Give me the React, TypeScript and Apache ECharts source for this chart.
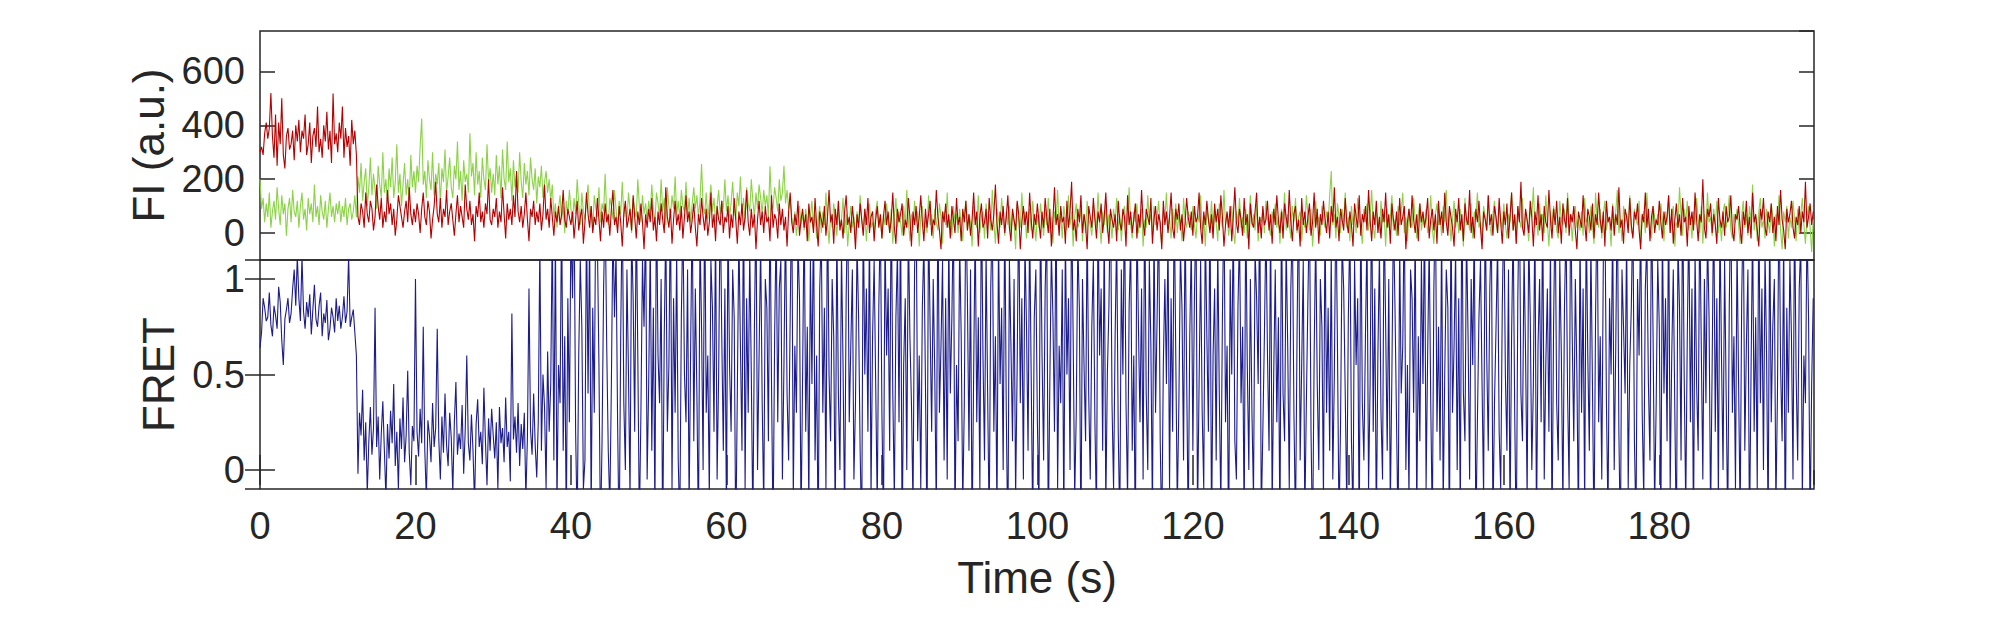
import React, { useEffect, useRef } from "react";
import * as echarts from "echarts";

// Each inner array holds one 10-second window, sampled every 0.2 s.
const WINDOW_S = 10;
const DT = 0.2;
const X_MAX = 199.9;
const X_TICK_STEP = 20;

// Acceptor (red) intensity, a.u.
const acceptorByWindow: number[][] = [
  [300, 320, 290, 370, 410, 350, 390, 520, 360, 280, 440, 250, 410, 330, 500, 290, 240, 360, 390, 310, 330, 380, 270, 400, 340, 420, 300, 380, 350, 440, 290, 330, 410, 260, 360, 390, 320, 470, 300, 350, 280, 400, 340, 450, 310, 380, 260, 518, 330, 370],
  [300, 410, 350, 470, 280, 390, 320, 360, 250, 420, 330, 380, 290, 60, 30, 110, 80, 20, 150, 70, 40, 120, 90, 10, 60, 180, 100, 50, 130, 20, 80, 40, 160, 70, 110, 30, 90, -10, 50, 140, 100, 60, 20, 80, 120, 40, 170, 70, 30, 90],
  [40, 110, 70, 0, 90, 150, 60, 30, 120, 80, -20, 50, 100, 190, 70, 40, 130, 20, 90, 60, 160, 30, 80, 110, 50, -10, 70, 140, 40, 100, 60, 20, 180, 90, 50, 120, 30, 70, -30, 100, 60, 150, 40, 80, 20, 110, 70, 200, 50, 30],
  [90, 60, 130, 20, 80, 40, 170, 70, -20, 110, 50, 90, 30, 140, 60, 230, 80, 40, 100, 20, 70, 150, 50, -30, 90, 60, 120, 30, 80, 40, 110, 10, 70, 180, 50, 90, 20, 130, 60, -10, 80, 40, 100, 30, 70, 160, 50, 20, 90, 60],
  [30, 80, -20, 50, 120, 10, 60, 90, -40, 40, 150, 70, 20, 100, 0, 60, 30, 130, 50, -30, 80, 20, 110, 40, 70, -10, 90, 160, 30, 60, 0, 100, 40, -50, 70, 120, 20, 50, 90, 10, 140, 60, -20, 80, 30, 110, 40, -60, 70, 20],
  [90, 40, 130, 10, 60, -30, 80, 30, 110, 50, 0, 170, 60, 20, 90, -40, 50, 120, 30, 70, 10, 100, -20, 60, 140, 40, 80, 0, 50, 110, 20, -50, 70, 30, 130, 60, 10, 90, -10, 40, 150, 20, 70, -30, 100, 50, 30, 120, 0, 60],
  [40, 100, -20, 70, 20, 130, 50, -40, 80, 30, 110, 10, 60, 160, 40, -10, 90, 20, 70, -60, 50, 120, 30, 80, 0, 100, 40, 60, -30, 140, 20, 70, 50, -20, 110, 30, 90, 10, 60, -50, 80, 150, 40, 0, 70, 30, 120, -10, 50, 90],
  [20, 70, -30, 110, 40, 60, 0, 130, 30, -50, 80, 50, 20, 100, -10, 60, 160, 40, 70, -40, 90, 30, 120, 10, 50, -20, 80, 140, 30, 60, 0, 100, 40, -60, 70, 20, 110, 50, -10, 90, 30, 130, 0, 60, 80, -30, 50, 100, 20, 70],
  [-20, 60, 120, 30, 80, 0, 50, 150, 20, -40, 90, 40, 70, 110, -10, 50, 20, 130, 60, -50, 80, 30, 100, 0, 60, 140, 40, -30, 90, 20, 70, 120, -10, 50, 30, 160, 60, 10, -60, 80, 40, 110, 20, 70, -20, 100, 50, 0, 130, 30],
  [60, -30, 90, 40, 120, 10, 70, -10, 50, 150, 30, 80, -50, 60, 110, 20, 40, 90, -20, 130, 50, 10, 70, 180, 40, -40, 80, 30, 100, 0, 60, 140, 20, -30, 90, 50, 10, 120, 70, -60, 40, 100, 30, 80, 0, 150, 50, -20, 70, 30],
  [110, 40, -20, 80, 20, 130, 60, 0, 90, -50, 50, 170, 30, 70, -10, 100, 40, 60, -40, 120, 20, 80, 190, 10, 50, -30, 90, 40, 140, 0, 70, 30, -60, 100, 60, 20, 130, 50, -20, 80, 40, 110, 0, 60, 150, 30, -40, 90, 50, 20],
  [70, -30, 120, 40, 10, 90, 60, -50, 140, 30, 80, 0, 50, 110, -20, 70, 20, 160, 40, -10, 90, 60, 30, 130, -40, 50, 100, 10, 70, 40, -60, 120, 30, 80, 0, 60, 150, 20, -20, 90, 50, 110, 10, 70, -30, 40, 130, 60, 20, 80],
  [-10, 100, 40, 60, 150, 20, -40, 80, 30, 120, 50, 0, 70, -20, 110, 40, 90, 10, 140, 60, -50, 30, 80, 20, 100, -30, 60, 170, 40, 0, 90, 50, -10, 130, 30, 70, -60, 110, 40, 20, 80, 150, 0, 60, -20, 100, 30, 50, 120, 10],
  [70, -40, 90, 30, 140, 50, 0, 80, -20, 110, 60, 20, 160, 40, -30, 70, 100, 10, 50, -50, 130, 30, 80, 0, 60, 110, -10, 40, 150, 20, 90, -40, 70, 30, 120, 50, 0, 80, -20, 100, 40, 170, 20, 60, -30, 90, 50, 10, 130, 40],
  [0, 80, 30, -50, 110, 60, 20, 140, -10, 70, 40, 100, 10, 160, 50, -30, 80, 30, 120, 0, 60, -20, 90, 40, 150, 20, 70, -40, 110, 50, 10, 80, -10, 130, 30, 60, 100, -60, 40, 90, 20, 140, 50, 0, 70, -30, 110, 40, 80, 20],
  [60, 130, -20, 50, 90, 10, 70, -40, 120, 30, 80, 0, 150, 40, -10, 100, 60, 20, -50, 90, 40, 130, 10, 70, -30, 110, 50, 30, 160, 0, 60, -20, 90, 40, 120, 20, -60, 80, 50, 10, 140, 30, 70, -10, 100, 60, 0, 130, 40, -40],
  [80, 30, 110, -20, 60, 150, 10, 70, -40, 100, 40, 190, 20, -10, 90, 50, 0, 120, 60, -50, 80, 30, 140, 10, 70, -30, 100, 40, 20, 160, 50, -20, 90, 30, 120, 0, 60, -40, 110, 50, 20, 130, -10, 70, 40, 100, 10, -60, 80, 50],
  [20, 140, 40, -30, 90, 60, 10, 110, -20, 70, 30, 150, 50, 0, 80, -50, 120, 40, 60, 10, 100, -10, 70, 30, 170, 20, 50, -40, 90, 60, 0, 130, 30, -20, 80, 50, 110, 10, -60, 70, 40, 150, 20, 90, -30, 60, 100, 0, 50, 30],
  [120, 40, -20, 80, 30, 60, 140, 0, 90, -40, 50, 110, 20, 70, -10, 130, 40, 60, -50, 100, 30, 80, 10, 150, 50, -30, 70, 40, 200, 20, -20, 90, 60, 110, 0, 70, 30, -40, 130, 50, 20, 80, -10, 100, 40, 60, 140, 10, -30, 70],
  [50, 100, 20, -40, 80, 30, 120, 0, 60, -20, 150, 40, 70, 10, -50, 90, 50, 130, 20, -10, 80, 40, 110, 0, 60, -30, 100, 30, 160, 50, 10, -60, 90, 40, 70, 120, 20, -20, 60, 30, 100, 0, 80, 40, 190, 20, 60, 110, 30, 80],
];

// Donor (green) intensity, a.u.
const donorByWindow: number[][] = [
  [200, 90, 130, 40, 110, 60, 150, 20, 80, 120, 50, 170, 90, 30, 140, 70, 110, -10, 90, 130, 40, 160, 80, 60, 120, 20, 100, 150, 50, 90, 10, 130, 70, 110, 40, 180, 60, 100, 30, 140, 80, 50, 120, 20, 90, 150, 60, 100, 40, 110],
  [70, 120, 40, 100, 60, 130, 30, 90, 110, 50, 80, 140, 60, 210, 150, 260, 120, 190, 240, 100, 170, 280, 140, 220, 160, 90, 250, 180, 130, 300, 150, 200, 110, 240, 170, 280, 130, 190, 330, 150, 220, 100, 180, 260, 140, 200, 120, 290, 170, 230],
  [150, 250, 190, 320, 425, 180, 230, 130, 270, 200, 160, 300, 140, 220, 180, 260, 110, 240, 190, 310, 150, 210, 280, 170, 130, 250, 200, 340, 160, 230, 120, 270, 190, 220, 150, 370, 210, 260, 140, 300, 180, 230, 130, 280, 200, 160, 330, 190, 240, 150],
  [220, 140, 290, 180, 250, 130, 310, 200, 160, 340, 190, 240, 120, 270, 170, 220, 150, 300, 190, 130, 260, 180, 230, 140, 280, 200, 160, 240, 110, 210, 170, 250, 130, 190, 230, 150, 200, 120, 180, 60, 110, 20, 90, 140, 50, 100, 0, 120, 70, 160],
  [90, 40, 130, 70, 200, 110, 30, 150, 80, 50, 120, 180, 60, 100, 10, 140, 90, 60, 170, 40, 110, 80, 220, 70, 30, 130, 100, 50, 160, 90, 20, 120, 70, 190, 60, 110, 40, 150, 90, 0, 130, 80, 60, 200, 100, 40, 140, 70, 110, 50],
  [120, 70, 180, 90, 40, 150, 110, 60, 200, 80, 130, 30, 170, 100, 60, 140, 90, 210, 70, 120, 50, 160, 100, 80, 190, 60, 130, 40, 110, 170, 90, 140, 60, 120, 256, 100, 70, 150, 50, 110, 180, 80, 130, 40, 100, 160, 70, 120, 90, 200],
  [80, 140, 60, 110, 190, 90, 50, 150, 100, 210, 70, 130, 40, 170, 110, 80, 200, 120, 60, 150, 90, 180, 130, 70, 160, 100, 140, 60, 248, 110, 90, 170, 130, 80, 200, 120, 150, 250, 110, 160, 90, 130, 60, 20, 80, -10, 50, 100, 30, 70],
  [10, 90, 40, -30, 60, 120, 20, 70, -20, 50, 100, 0, 80, 30, 150, 40, -40, 70, 20, 110, 60, -10, 90, 30, 50, 130, 0, 70, -50, 40, 100, 20, 60, -20, 80, 30, 140, 50, 10, 90, -30, 60, 110, 20, 40, 0, 80, 120, 30, 60],
  [-20, 70, 30, 110, 50, 0, 90, -40, 60, 130, 20, 80, 40, -10, 100, 30, 160, 50, -30, 70, 10, 120, 40, 80, -50, 60, 100, 20, 50, 0, 140, 30, 70, -20, 90, 40, 10, 110, 60, -40, 80, 30, 150, 20, 50, -10, 100, 40, 70, 0],
  [90, 30, -30, 60, 120, 10, 70, 40, -50, 100, 50, 20, 140, 0, 60, 80, -20, 110, 30, 70, 10, 160, 40, -40, 90, 50, 20, 130, 60, -10, 80, 30, 100, 0, 70, 40, -60, 110, 50, 20, 150, 30, 80, -20, 60, 90, 10, 120, 40, -30],
  [70, 20, 110, 50, -10, 90, 30, 130, 0, 60, -40, 80, 40, 160, 20, 70, -20, 100, 50, 10, 140, 30, 80, -50, 60, 110, 20, 40, 90, -30, 70, 0, 120, 50, 30, -10, 100, 60, 20, 150, 40, -40, 80, 30, 110, 0, 70, 50, -20, 90],
  [40, 130, 10, 70, -30, 60, 100, 20, 50, 170, 30, -20, 80, 40, 110, 0, 60, 90, -50, 50, 20, 140, 40, 70, -10, 100, 30, 60, 120, 10, -40, 80, 50, 150, 20, 60, -20, 90, 30, 110, 0, 70, 40, -30, 130, 50, 20, 80, 60, 10],
  [100, 30, -20, 70, 40, 140, 10, 60, -50, 90, 50, 20, 120, 0, 80, 40, -30, 110, 60, 20, 160, 30, 70, -10, 50, 100, 10, -40, 80, 40, 130, 20, 60, 0, 90, -20, 50, 140, 30, 70, 10, 110, -30, 60, 40, 90, 0, 120, 50, 20],
  [-10, 80, 40, 110, 20, 60, -40, 90, 50, 150, 10, 70, 30, -20, 100, 40, 130, 0, 60, 80, -30, 50, 20, 140, 70, 10, 90, -50, 40, 120, 30, 60, -10, 100, 50, 20, 80, 40, 140, 230, 30, 70, -20, 110, 60, 0, 90, 40, 150, 20],
  [60, -30, 100, 30, 70, 0, 130, 50, 20, -40, 90, 40, 110, 10, 60, 160, 30, -20, 80, 50, 0, 120, 40, 70, -50, 90, 20, 60, 140, 10, 50, -10, 100, 30, 80, 150, 0, 60, -30, 90, 40, 20, 130, 50, -20, 70, 110, 10, 60, 30],
  [90, 0, 50, 140, 20, -40, 70, 110, 30, 60, -10, 100, 40, 160, 10, 80, -30, 50, 120, 20, 70, 0, 90, 40, -50, 130, 30, 60, 10, 110, -20, 80, 50, 150, 20, 40, -30, 100, 60, 10, 140, 30, -10, 70, 120, 40, 0, 90, 50, 20],
  [110, 30, -20, 70, 40, 150, 10, 60, -40, 100, 50, 20, 130, 0, 80, 40, -30, 90, 60, 170, 20, 50, -10, 110, 30, 70, 0, 140, 40, -50, 80, 20, 100, 60, 10, -20, 120, 50, 30, 90, 0, 150, 40, 70, -30, 60, 100, 20, 50, 10],
  [80, -10, 130, 40, 60, 0, 100, 30, -40, 150, 50, 20, 90, -20, 70, 120, 10, 60, 40, -50, 110, 30, 80, 160, 0, 50, -30, 100, 40, 70, 20, 140, 10, -10, 90, 50, 30, 120, -40, 60, 80, 0, 150, 40, 20, -20, 100, 60, 30, 70],
  [10, 110, 50, -30, 80, 30, 140, 0, 60, 100, -50, 40, 20, 170, 70, -10, 90, 40, 120, 10, 60, -20, 80, 30, 130, 50, 0, 100, -40, 70, 20, 150, 40, 60, -10, 90, 30, 120, 0, 50, -30, 80, 110, 20, 60, 140, 10, -20, 70, 40],
  [90, 30, -40, 60, 120, 20, 70, -10, 100, 40, 180, 10, 60, -30, 80, 130, 20, 50, -20, 90, 40, 0, 110, 60, -50, 70, 30, 140, 10, -60, 80, 40, 100, -20, 60, 20, 120, 50, -30, 90, 0, 70, 130, 30, -40, 60, 100, 20, -70, 50],
];

// FRET efficiency
const fretByWindow: number[][] = [
  [0.64, 0.72, 0.9, 0.85, 0.78, 0.8, 0.93, 0.76, 0.7, 0.86, 0.81, 0.74, 0.96, 0.88, 0.68, 0.55, 0.79, 0.84, 0.9, 0.77, 0.82, 0.95, 1.05, 0.86, 1.12, 0.9, 0.78, 1.12, 0.83, 0.74, 0.88, 0.8, 0.92, 0.71, 0.84, 0.97, 0.79, 0.75, 0.86, 0.93, 0.7, 0.82, 0.77, 0.89, 0.68, 0.74, 0.85, 0.8, 0.72, 0.9],
  [0.78, 0.86, 0.74, 0.8, 0.91, 0.77, 0.83, 1.12, 0.75, 0.8, 0.84, 0.72, 0.6, -0.02, 0.3, 0.18, 0.42, 0.05, 0.25, -0.12, 0.15, 0.33, 0.08, 0.22, 0.85, 0.12, 0.28, -0.05, 0.19, 0.36, 0.1, -0.15, 0.24, 0.06, 0.31, 0.14, 0.45, 0.02, 0.2, -0.1, 0.27, 0.11, 0.38, 0.04, 0.18, 0.52, 0.09, -0.08, 0.23, 0.15],
  [1.0, 0.2, 0.07, 0.32, 0.14, 0.75, 0.1, -0.15, 0.26, 0.18, 0.04, 0.35, 0.12, 0.22, 0.74, 0.16, -0.05, 0.28, 0.09, 0.4, 0.13, 0.02, 0.3, 0.17, -0.12, 0.25, 0.46, 0.08, 0.19, 0.11, 0.34, -0.02, 0.21, 0.6, 0.14, 0.05, 0.29, 0.1, -0.18, 0.24, 0.37, 0.12, 0.2, 0.03, 0.43, 0.15, -0.08, 0.27, 0.1, 0.32],
  [0.18, 0.06, 0.25, -0.1, 0.33, 0.14, 0.22, 0.04, 0.38, 0.12, 0.2, -0.06, 0.82, 0.16, 0.28, 0.09, 0.35, 0.02, 0.24, 0.11, 0.3, -0.15, 0.17, 0.95, 0.21, 0.08, 0.4, 0.13, -0.04, 0.26, 1.2, 0.1, 0.5, 0.33, -0.1, 0.62, 0.2, 0.45, 1.3, 0.05, 1.25, -0.2, 0.55, 0.35, 1.4, 0.1, 0.7, -0.3, 0.9, 0.25],
  [1.3, 0.9, 1.45, 0.2, -0.3, 0.6, 1.1, 0.75, -0.1, 0.05, 1.35, 0.4, 1.25, -0.25, 0.85, 0.3, 1.5, 1.2, 0.55, -0.35, 0.15, 0.95, 1.4, 0.65, 0.1, -0.2, 0.45, 1.3, 0.8, 1.15, 0.25, -0.4, 0.7, 1.45, 0.35, 0.0, 1.05, 0.5, -0.15, 1.25, 0.9, 0.2, 1.4, 0.6, -0.3, 0.3, 1.1, 0.75, 1.35, -0.05],
  [0.45, 1.2, 0.1, 0.85, -0.25, 1.5, 0.6, 0.35, 1.0, -0.4, 0.7, 1.3, 0.2, 0.55, 1.45, -0.1, 0.9, 0.3, 1.15, 0.05, -0.3, 0.8, 1.35, 0.5, 0.25, 1.05, -0.2, 0.65, 1.4, 0.15, 0.95, 0.4, -0.35, 1.25, 0.75, 0.0, 1.5, 0.3, 0.6, -0.15, 1.1, 0.85, 0.2, 1.3, -0.05, 0.5, 1.45, 0.7, 0.1, 0.95],
  [-0.25, 1.35, 0.55, 0.2, 1.05, 0.8, -0.4, 0.4, 1.25, 0.65, 0.1, 1.5, -0.1, 0.9, 0.3, 1.15, 0.5, -0.3, 0.75, 1.4, 0.0, 0.6, 1.2, 0.35, -0.2, 1.0, 0.85, 0.15, 1.45, 0.45, -0.35, 0.7, 1.3, 0.25, 0.95, 1.1, -0.05, 0.55, 1.35, 0.4, 0.05, 0.8, 1.5, -0.15, 0.65, 0.3, 1.2, 0.9, -0.3, 0.5],
  [1.4, 0.2, 0.75, -0.2, 1.1, 0.45, 1.35, 0.05, 0.6, -0.4, 0.95, 1.25, 0.3, 0.85, -0.1, 1.5, 0.5, 0.15, 1.0, 0.7, -0.3, 1.3, 0.4, 0.0, 1.15, 0.55, -0.25, 0.9, 1.45, 0.25, 0.65, 1.05, -0.05, 0.35, 1.2, 0.8, 0.1, -0.35, 1.4, 0.5, 0.95, 0.2, 1.3, -0.15, 0.7, 1.1, 0.45, -0.2, 0.85, 1.35],
  [0.3, -0.3, 1.25, 0.6, 0.95, 0.1, 1.5, 0.4, -0.15, 0.8, 1.15, 0.25, 1.4, -0.4, 0.55, 0.9, 0.0, 1.3, 0.7, 0.35, -0.2, 1.05, 1.45, 0.15, 0.6, -0.1, 0.85, 1.2, 0.45, -0.35, 1.35, 0.75, 0.2, 1.0, 0.5, -0.25, 1.5, 0.3, 0.65, 1.1, 0.05, 0.9, -0.05, 1.25, 0.4, 0.8, 1.4, -0.3, 0.55, 0.15],
  [1.2, 0.7, -0.2, 0.35, 1.45, 0.9, 0.1, 1.05, -0.35, 0.5, 1.3, 0.25, 0.8, -0.1, 1.5, 0.6, 0.05, 1.15, 0.4, -0.3, 0.95, 1.35, 0.2, 0.7, -0.25, 1.25, 0.45, 0.85, 0.0, 1.4, 0.3, -0.4, 1.1, 0.65, 0.15, 1.0, -0.15, 0.55, 1.45, 0.35, 0.9, -0.05, 1.2, 0.75, 0.1, 1.3, 0.5, -0.3, 0.8, 1.05],
  [0.25, -0.2, 1.4, 0.6, 0.05, 0.95, 1.3, -0.35, 0.45, 1.15, 0.8, 0.2, 1.5, -0.1, 0.65, 0.35, 1.05, -0.3, 1.25, 0.5, 0.9, 0.0, 1.45, 0.7, -0.15, 0.3, 1.2, 0.85, -0.4, 1.0, 0.55, 0.15, 1.35, 0.4, -0.05, 0.75, 1.1, 0.25, -0.25, 1.4, 0.6, 0.95, 0.1, 1.3, -0.2, 0.5, 0.85, 1.5, 0.35, -0.1],
  [0.7, 1.25, 0.2, -0.3, 1.05, 0.5, 1.45, 0.35, -0.15, 0.85, 1.2, 0.1, 0.6, -0.4, 1.35, 0.75, 0.25, 0.95, -0.05, 1.5, 0.4, 0.0, 1.1, 0.65, -0.25, 1.3, 0.3, 0.8, 1.4, 0.15, -0.35, 0.55, 1.0, 0.45, 1.25, -0.1, 0.9, 0.2, 1.45, 0.6, -0.2, 0.35, 1.15, 0.85, 0.05, 1.35, 0.5, -0.3, 0.7, 1.2],
  [0.1, 0.9, 1.4, -0.25, 0.45, 1.1, 0.3, -0.1, 1.3, 0.7, 0.2, 1.5, -0.35, 0.6, 0.95, 0.05, 1.2, 0.4, -0.2, 0.8, 1.45, 0.25, 0.65, -0.4, 1.05, 0.5, 1.35, 0.15, -0.05, 0.85, 1.25, 0.35, 0.75, -0.3, 1.4, 0.55, 0.0, 1.0, 0.3, -0.15, 1.15, 0.9, 0.45, 1.5, -0.25, 0.2, 0.7, 1.3, 0.6, 0.1],
  [1.35, -0.2, 0.5, 1.05, 0.25, 0.8, -0.35, 1.45, 0.4, 0.15, 1.2, 0.65, -0.1, 0.95, 1.3, 0.3, -0.3, 0.7, 1.5, 0.05, 0.55, 1.1, -0.25, 0.35, 0.9, 1.4, 0.2, -0.4, 0.6, 1.25, 0.45, 0.0, 1.0, 0.75, -0.15, 1.35, 0.3, 0.85, 0.1, 1.15, -0.05, 0.5, 1.45, 0.65, -0.3, 0.25, 1.2, 0.95, 0.4, -0.2],
  [0.8, 1.3, 0.15, -0.25, 1.1, 0.55, 0.9, -0.4, 1.45, 0.35, 0.05, 0.7, 1.25, -0.1, 0.45, 1.5, 0.2, 0.95, -0.3, 0.6, 1.15, 0.3, -0.05, 1.4, 0.75, 0.1, 1.0, -0.2, 0.5, 1.35, 0.85, 0.25, -0.35, 1.2, 0.4, 0.65, 1.45, 0.0, 0.55, -0.15, 1.05, 0.9, 0.3, 1.3, -0.25, 0.7, 0.15, 1.1, 0.45, 1.4],
  [-0.1, 0.6, 1.2, 0.35, -0.3, 0.95, 1.45, 0.2, 0.75, 0.05, 1.3, -0.2, 0.5, 1.05, 0.85, -0.4, 1.4, 0.3, 0.65, 1.15, 0.0, 0.9, -0.25, 1.5, 0.4, 0.15, 1.25, 0.7, -0.05, 1.0, 0.55, 1.35, -0.35, 0.25, 0.8, 1.1, 0.45, -0.15, 1.45, 0.6, 0.1, 0.95, 1.3, -0.3, 0.35, 0.75, 1.2, 0.2, -0.1, 0.85],
  [1.4, 0.5, 0.1, 1.05, -0.25, 0.7, 1.3, 0.3, -0.4, 0.9, 1.5, 0.4, 0.15, 1.15, 0.6, -0.15, 1.25, 0.8, 0.0, 0.45, 1.35, -0.3, 0.65, 1.0, 0.25, 1.45, -0.05, 0.55, 0.95, 0.2, 1.2, -0.35, 0.75, 1.4, 0.35, 0.05, 1.1, 0.6, -0.2, 0.85, 1.3, 0.4, -0.1, 1.5, 0.7, 0.15, 1.0, 0.5, -0.3, 1.25],
  [0.3, 0.95, -0.2, 1.35, 0.6, 0.1, 1.2, 0.45, -0.35, 0.8, 1.45, 0.25, 0.7, -0.05, 1.1, 1.4, 0.35, -0.25, 0.9, 0.5, 1.3, 0.0, 0.65, 1.5, 0.2, -0.4, 1.05, 0.75, 0.4, 1.25, -0.1, 0.55, 0.85, 1.4, 0.15, -0.3, 1.0, 0.6, 1.35, 0.3, -0.15, 0.95, 1.2, 0.45, 0.05, 1.45, 0.7, -0.2, 0.35, 1.1],
  [0.75, -0.3, 1.3, 0.4, 0.9, 0.15, 1.45, -0.1, 0.6, 1.05, 0.3, -0.4, 1.2, 0.85, 0.05, 1.5, 0.5, -0.2, 0.7, 1.35, 0.25, 0.95, -0.35, 1.15, 0.45, 0.1, 1.4, 0.65, -0.05, 1.0, 0.35, 1.25, 0.8, -0.25, 0.55, 1.45, 0.2, 0.9, -0.15, 1.3, 0.6, 0.0, 1.1, 0.4, -0.3, 0.85, 1.5, 0.3, 0.7, -0.1],
  [1.2, 0.45, -0.25, 0.9, 1.4, 0.1, 0.65, 1.05, -0.35, 0.5, 1.3, 0.2, 0.8, -0.1, 1.45, 0.35, 0.95, 0.0, 1.15, 0.6, -0.3, 1.35, 0.25, 0.75, 1.0, -0.2, 0.4, 1.5, 0.55, 0.15, 1.25, -0.4, 0.85, 0.3, 1.1, 0.7, -0.05, 1.4, 0.5, 0.05, 0.95, 1.2, -0.15, 0.6, 0.35, 1.3, 0.8, -0.3, 0.45, 0.9],
];

const FI_MIN = -100;
const FI_MAX = 750;
const FRET_MIN = -0.1;
const FRET_MAX = 1.1;

const AXIS_COLOR = "#262626";
const FONT = "'Liberation Sans', Arial, Helvetica, sans-serif";

function toPairs(windows: number[][]): [number, number][] {
  const out: [number, number][] = [];
  windows.forEach((row, w) => {
    row.forEach((v, k) => {
      out.push([Math.round((w * WINDOW_S + k * DT) * 10) / 10, v]);
    });
  });
  return out;
}

export default function App() {
  const ref = useRef<HTMLDivElement>(null);

  useEffect(() => {
    if (!ref.current) return;
    const chart = echarts.init(ref.current, null, { renderer: "svg" });

    const gridLeft = 260;
    const gridWidth = 1554;

    const tickStyle = { color: AXIS_COLOR, width: 1.5 };
    const labelStyle = { color: AXIS_COLOR, fontSize: 38, fontFamily: FONT };

    const option: any = {
      animation: false,
      backgroundColor: "#ffffff",
      grid: [
        {
          left: gridLeft, top: 31, width: gridWidth, height: 229,
          show: true, borderColor: AXIS_COLOR, borderWidth: 1.5, backgroundColor: "transparent",
        },
        {
          left: gridLeft, top: 260, width: gridWidth, height: 229,
          show: true, borderColor: AXIS_COLOR, borderWidth: 1.5, backgroundColor: "transparent",
        },
      ],
      xAxis: [
        {
          type: "value", gridIndex: 0, min: 0, max: X_MAX, interval: X_TICK_STEP,
          show: false, splitLine: { show: false },
        },
        {
          type: "value", gridIndex: 1, min: 0, max: X_MAX, interval: X_TICK_STEP,
          position: "bottom",
          axisLine: { show: false },
          axisTick: { show: true, inside: true, length: 15, lineStyle: tickStyle },
          axisLabel: { ...labelStyle, margin: 18, showMaxLabel: false },
          splitLine: { show: false },
          name: "Time (s)",
          nameLocation: "middle",
          nameGap: 66,
          nameTextStyle: { color: AXIS_COLOR, fontSize: 44, fontFamily: FONT },
        },
        {
          type: "value", gridIndex: 1, min: 0, max: X_MAX, interval: X_TICK_STEP,
          position: "top",
          axisLine: { show: false },
          axisTick: { show: true, inside: true, length: 15, lineStyle: tickStyle },
          axisLabel: { show: false },
          splitLine: { show: false },
        },
      ],
      yAxis: [
        {
          type: "value", gridIndex: 0, min: FI_MIN, max: FI_MAX, minInterval: 200, maxInterval: 200,
          position: "left",
          axisLine: { show: false },
          axisTick: { show: true, inside: true, length: 15, lineStyle: tickStyle },
          axisLabel: { ...labelStyle, margin: 15, showMinLabel: false, showMaxLabel: false },
          splitLine: { show: false },
          name: "FI (a.u.)",
          nameLocation: "middle",
          nameRotate: 90,
          nameGap: 87,
          nameTextStyle: { color: AXIS_COLOR, fontSize: 44, fontFamily: FONT },
        },
        {
          type: "value", gridIndex: 0, min: FI_MIN, max: FI_MAX, minInterval: 200, maxInterval: 200,
          position: "right",
          axisLine: { show: false },
          axisTick: { show: true, inside: true, length: 15, lineStyle: tickStyle },
          axisLabel: { show: false },
          splitLine: { show: false },
        },
        {
          type: "value", gridIndex: 1, min: FRET_MIN, max: FRET_MAX, minInterval: 0.5, maxInterval: 0.5,
          position: "left",
          axisLine: { show: false },
          axisTick: { show: true, inside: true, length: 15, lineStyle: tickStyle },
          axisLabel: { ...labelStyle, margin: 15, showMinLabel: false, showMaxLabel: false },
          splitLine: { show: false },
          name: "FRET",
          nameLocation: "middle",
          nameRotate: 90,
          nameGap: 80,
          nameTextStyle: { color: AXIS_COLOR, fontSize: 44, fontFamily: FONT },
        },
        {
          type: "value", gridIndex: 1, min: FRET_MIN, max: FRET_MAX, minInterval: 0.5, maxInterval: 0.5,
          position: "right",
          axisLine: { show: false },
          axisTick: { show: true, inside: true, length: 15, lineStyle: tickStyle },
          axisLabel: { show: false },
          splitLine: { show: false },
        },
      ],
      series: [
        {
          name: "Donor", type: "line", xAxisIndex: 0, yAxisIndex: 0,
          data: toPairs(donorByWindow), showSymbol: false, clip: true,
          lineStyle: { color: "#8cd246", width: 1.1 },
        },
        {
          name: "Acceptor", type: "line", xAxisIndex: 0, yAxisIndex: 0,
          data: toPairs(acceptorByWindow), showSymbol: false, clip: true,
          lineStyle: { color: "#b40000", width: 1.1 },
        },
        {
          name: "FRET", type: "line", xAxisIndex: 1, yAxisIndex: 2,
          data: toPairs(fretByWindow), showSymbol: false, clip: true,
          lineStyle: { color: "#1c1c8c", width: 1.1 },
        },
      ],
    };

    chart.setOption(option);
    return () => chart.dispose();
  }, []);

  return (
    <div
      ref={ref}
      style={{ position: "fixed", left: 0, top: 0, width: 2005, height: 625, background: "#fff" }}
    />
  );
}
